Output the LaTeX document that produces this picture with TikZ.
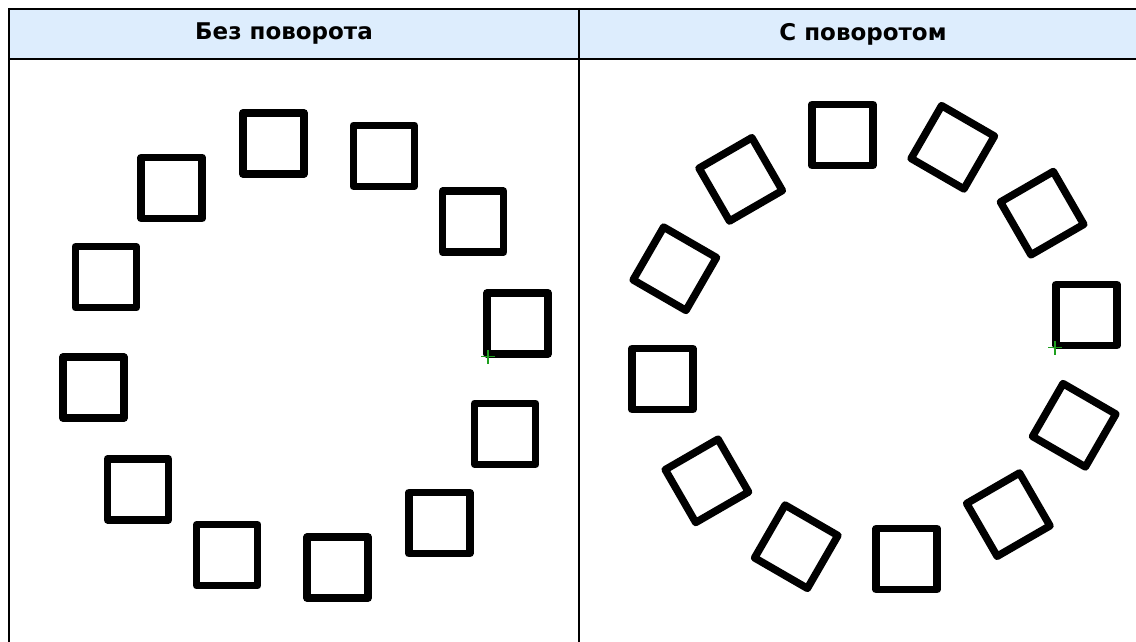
\documentclass[tikz,border=0pt]{standalone}
\usepackage{fontspec}
\newfontfamily\hdrfont{DejaVu Sans}
\definecolor{hdrblue}{RGB}{221,237,253}
\definecolor{crossgreen}{RGB}{30,160,30}
\begin{document}
\begin{tikzpicture}[x=1pt,y=-1pt,
  sq/.style={draw, line width=7.5pt, line join=round, shape=rectangle, minimum size=61pt, inner sep=0pt, outer sep=0pt},
  gridline/.style={line width=2.6pt, black},
  hdr/.style={font=\hdrfont\bfseries\fontsize{23}{26}\selectfont, inner sep=0pt},
  basept/.style={draw=crossgreen, line width=1.3pt}]
\useasboundingbox (0,0) rectangle (1136,642);
\fill[white] (0,0) rectangle (1136,642);
\fill[hdrblue] (9,9) rectangle (1136,59);
\draw[gridline] (8,9) -- (1136,9);
\draw[gridline] (8,59) -- (1136,59);
\draw[gridline] (9,8) -- (9,642);
\draw[gridline] (579,8) -- (579,642);
\node[hdr] (h1) at (284,34) {Без поворота};
\node[hdr] (h2) at (863,34) {С поворотом};
\foreach \k in {0,...,11}{
  \pgfmathsetmacro\a{8.6+30*\k}
  \node[sq] (L\k) at ({305.5+214.5*cos(\a)},{355.5-214.5*sin(\a)}) {};
  \node[sq, rotate=30*\k] (R\k) at ({874.5+214.5*cos(\a)},{347-214.5*sin(\a)}) {};
}
\coordinate (bL) at (488,356.5);
\coordinate (bR) at (1055,347.5);
\foreach \b in {bL,bR}{
  \draw[basept] ([xshift=-7pt]\b) -- ([xshift=7pt]\b);
  \draw[basept] ([yshift=-7pt]\b) -- ([yshift=7pt]\b);
}
\end{tikzpicture}
\end{document}
